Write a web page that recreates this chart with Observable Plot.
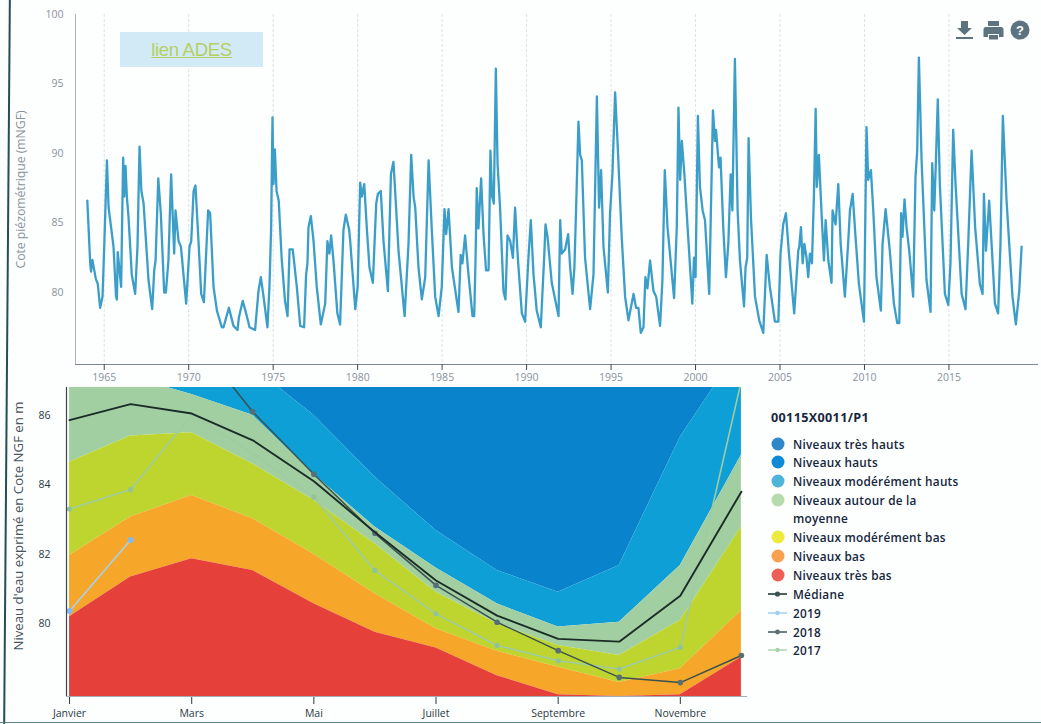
<!DOCTYPE html>
<html lang="fr">
<head>
<meta charset="utf-8">
<title>Cote piézométrique 00115X0011/P1</title>
<script src="https://cdn.jsdelivr.net/npm/d3@7"></script>
<script src="https://cdn.jsdelivr.net/npm/@observablehq/plot@0.6"></script>
<style>
html,body{margin:0;padding:0;background:#fdfefe;}
#page{position:relative;width:1041px;height:724px;overflow:hidden;font-family:"Open Sans",sans-serif;}
#top,#bottom{position:absolute;left:0;}
#top{top:0;}#bottom{top:387px;}
#page svg{background:transparent;display:block;}
#scan-left{position:absolute;left:6px;top:-5px;width:1.6px;height:735px;background:#234f55;transform:rotate(0.45deg);}
#scan-bottom{position:absolute;left:0;top:722px;width:1041px;height:1.2px;background:#5d8388;}
#ades{position:absolute;left:120px;top:32px;width:143px;height:35px;background:#d2eaf6;text-align:center;font:18.5px/35px "Liberation Sans",sans-serif;letter-spacing:-.3px;color:#b5cf63;text-decoration:underline;}
.icons{position:absolute;left:954px;top:17px;}
#legend{position:absolute;left:771px;top:409px;width:198px;color:#16263c;font:600 11.8px/18px "Open Sans",sans-serif;letter-spacing:.25px;}
#legend .title{font-size:12.6px;font-weight:700;height:22px;margin-bottom:3.5px;letter-spacing:.35px;}
#legend .row{display:flex;align-items:flex-start;margin-bottom:.9px;}
#legend .key{flex:0 0 22px;width:22px;height:18px;}
#legend .label{flex:1;}
</style>
</head>
<body>
<div id="page">
  <div id="top"></div>
  <div id="bottom"></div>
  <div id="scan-left"></div>
  <div id="scan-bottom"></div>
  <div id="ades">lien ADES</div>
  <svg class="icons" width="78" height="26" viewBox="0 0 78 26" fill="#5d7380">
    <path d="M7 4h7v7h4l-7.5 7-7.5-7h4z"/><rect x="2" y="20" width="17" height="2"/>
    <path d="M34 4h11v5H34z"/><path d="M32 10h15a2.500 2.500 0 0 1 2.500 2.500V20H45v-3H34v3h-4.500V12.500A2.500 2.500 0 0 1 32 10z"/><rect x="35" y="18" width="9" height="4.500"/>
    <circle cx="66" cy="13" r="9.500"/>
    <text x="66" y="17.500" fill="#fff" font-size="13" font-weight="700" text-anchor="middle" font-family="Liberation Sans">?</text>
  </svg>
  <div id="legend"></div>
</div>
<script>
// ---- Chronique piézométrique (haut) ----
const years = [1964,1964.17,1964.22,1964.3,1964.5,1964.62,1964.76,1964.9,1965,1965.16,1965.26,1965.55,1965.7,1965.75,1965.8,1966,1966.12,1966.18,1966.26,1966.34,1966.44,1966.63,1966.83,1966.97,1967.09,1967.2,1967.33,1967.62,1967.84,1967.96,1968.04,1968.2,1968.35,1968.55,1968.65,1968.8,1968.96,1969.14,1969.22,1969.4,1969.54,1969.85,1970.05,1970.15,1970.29,1970.4,1970.58,1970.74,1970.9,1971.04,1971.15,1971.27,1971.47,1971.67,1971.96,1972.06,1972.38,1972.65,1972.89,1972.97,1973.2,1973.4,1973.6,1973.93,1974.13,1974.27,1974.43,1974.66,1974.78,1974.88,1974.96,1975.02,1975.1,1975.2,1975.33,1975.5,1975.7,1975.85,1975.97,1976.16,1976.4,1976.6,1976.83,1976.95,1977.03,1977.09,1977.23,1977.39,1977.58,1977.82,1978.08,1978.21,1978.33,1978.43,1978.57,1978.8,1978.96,1979.16,1979.3,1979.5,1979.56,1979.86,1980,1980.15,1980.25,1980.39,1980.55,1980.7,1980.9,1981.1,1981.2,1981.37,1981.53,1981.79,1981.97,1982.12,1982.22,1982.42,1982.78,1983.01,1983.17,1983.31,1983.41,1983.6,1983.8,1984,1984.2,1984.39,1984.59,1984.79,1984.98,1985.14,1985.24,1985.38,1985.58,1985.97,1986.1,1986.2,1986.36,1986.56,1986.8,1986.9,1986.98,1987.05,1987.15,1987.31,1987.45,1987.6,1987.75,1987.86,1987.96,1988.06,1988.18,1988.28,1988.43,1988.63,1988.75,1988.87,1989.03,1989.19,1989.32,1989.48,1989.72,1989.91,1990.11,1990.25,1990.41,1990.6,1990.84,1991.04,1991.12,1991.24,1991.49,1991.89,1991.99,1992.08,1992.28,1992.46,1992.58,1992.72,1992.83,1992.93,1993.07,1993.17,1993.27,1993.46,1993.76,1993.96,1994.16,1994.29,1994.41,1994.55,1994.81,1994.94,1995.08,1995.24,1995.38,1995.63,1995.83,1996.03,1996.33,1996.48,1996.62,1996.76,1996.92,1997.03,1997.15,1997.31,1997.51,1997.67,1997.9,1998.04,1998.18,1998.34,1998.73,1998.89,1998.99,1999.09,1999.19,1999.34,1999.58,1999.81,1999.91,2000,2000.14,2000.26,2000.42,2000.56,2000.81,2000.95,2001.03,2001.15,2001.21,2001.39,2001.48,2001.64,2001.8,2001.94,2002.08,2002.18,2002.33,2002.49,2002.63,2002.87,2002.96,2003.06,2003.14,2003.28,2003.52,2003.77,2004.01,2004.21,2004.4,2004.7,2004.9,2005.03,2005.19,2005.35,2005.53,2005.84,2006.08,2006.14,2006.24,2006.34,2006.44,2006.57,2006.67,2006.77,2006.89,2007.01,2007.11,2007.18,2007.3,2007.46,2007.6,2007.7,2007.86,2008.05,2008.11,2008.29,2008.45,2008.59,2008.84,2009.04,2009.14,2009.3,2009.47,2009.67,2009.97,2010.12,2010.22,2010.38,2010.52,2010.71,2010.97,2011.07,2011.25,2011.5,2011.74,2011.94,2012.06,2012.17,2012.25,2012.37,2012.49,2012.65,2012.88,2013.02,2013.12,2013.22,2013.38,2013.67,2013.91,2014.01,2014.13,2014.21,2014.34,2014.46,2014.76,2014.96,2015.09,2015.25,2015.39,2015.75,2015.98,2016.14,2016.34,2016.55,2016.83,2016.99,2017.07,2017.19,2017.38,2017.5,2017.72,2017.91,2018.05,2018.19,2018.41,2018.76,2018.96,2019.16,2019.3];
const levels = [86.6,82.1,81.5,82.35,81,80.6,78.9,79.7,83.3,89.5,86.1,83.3,79.7,79.5,82.9,80.4,89.7,86.9,89.1,86.9,85.4,81.3,79.9,83.3,90.5,87.3,86.4,80.9,78.8,81.6,82.3,88.2,85.7,80,80,82.3,88.5,82.8,85.9,83.7,83.3,79.2,83.3,83.7,87.3,87.7,83.7,79.9,79.3,83,85.9,85.7,80.4,78.7,77.5,77.5,78.9,77.6,77.3,78.2,79.4,78.5,77.5,77.3,80.1,81.1,79.7,77.5,80.4,84.7,92.6,87.8,90.3,87.3,86.6,82.5,79.4,78.3,83.1,83.1,80.4,77.6,77.5,81.3,82.1,84.7,85.5,83.7,80.4,77.7,79.2,83.7,82.8,84.1,82.3,78.5,77.7,84.5,85.6,84.5,83.7,78.8,80.4,87.9,86.9,87.8,84.5,81.8,80.7,86.4,87.1,87.3,83.7,80.1,88.5,89.4,87.3,83,78.3,83.5,89.9,86.9,86.1,81.8,79.5,81.1,89.5,84.5,79.7,78.3,80.4,86,84.2,86,81.8,78.6,82.7,82.1,84.1,81.3,78.3,78.3,82.5,87.5,84.6,88.2,84.2,81.6,81.6,90.2,86.9,86.4,96.1,89.3,86.1,80.1,79.5,84.1,83.7,82.5,86.1,82.5,78.5,77.9,82.5,85.2,81.3,78.7,77.5,82.5,84.9,84,80.7,78.3,85.2,82.8,83.1,84.2,81.8,79.9,81.8,86,92.3,89.9,89.5,82.5,78.8,81.3,94.1,86.1,88.8,83.3,80,85.7,88.5,94.4,90.9,84,79.7,78,79.9,78.9,78.9,77.1,77.5,81.1,80.3,82.3,80.1,79.7,77.6,80.9,88.8,84.7,79.6,84.7,93.3,88.1,90.9,88.5,83.7,79.2,82.5,81.1,92.7,87.6,85.9,85.2,79.9,88.3,93.1,90.9,91.7,89,89.7,84.7,81.1,83.5,88.5,85.9,96.8,85.9,82.3,79,81.8,82.5,91.1,85.4,79.7,78,77.1,82.7,80.4,77.9,77.9,82.8,84.9,85.7,82.8,78.5,83,83.3,84.7,82.1,83.5,82.5,81.1,82.8,82.1,87.1,93.2,87.6,89.9,85.7,82.3,85.2,82.3,80.7,85.9,84.9,87.8,83.5,79.7,83.7,85.9,87.1,84,80.6,77.9,91.9,88.1,88.8,85.9,81.1,78.7,83.5,86,83,79.2,77.8,77.8,85.7,84,86.7,84.7,83,79.7,88.3,90.2,96.9,89.5,80.9,78.6,89.3,85.9,88.8,93.9,87.8,79.9,79.1,82.1,91.7,87.8,79.9,78.8,83.5,90.2,84.7,80.6,79.9,87.1,83,86.6,84,79.2,78.5,83.5,92.7,86.6,79.7,77.7,80.1,83.3];
const yearTicks = [1965,1970,1975,1980,1985,1990,1995,2000,2005,2010,2015];
const levelTicks = [80,85,90,95,100];

// ---- Niveaux mensuels (bas) ----
const monthIndex = [0,1,2,3,4,5,6,7,8,9,10,11];
const monthTicks = [0,2,4,6,8,10];
const monthNames = ["Janvier","Février","Mars","Avril","Mai","Juin","Juillet","Août","Septembre","Octobre","Novembre","Décembre"];
const ngfTicks = [80,82,84,86];
const floorLevel = [77.9,77.9,77.9,77.9,77.9,77.9,77.9,77.9,77.9,77.9,77.9,77.9];
const tresBas = [80.2,81.34,81.87,81.53,80.57,79.75,79.3,78.5,77.95,77.9,77.95,79.03];
const bas = [81.96,83.07,83.69,83.02,82,80.86,79.85,79.2,78.74,78.3,78.7,80.37];
const moderementBas = [84.65,85.4,85.5,84.6,83.55,82.3,80.9,80,79.37,79.08,80.09,82.78];
const autourMoyenne = [87.6,87.1,86.6,86,84.3,82.78,81.6,80.57,79.9,80.04,81.67,84.85];
const moderementHauts = [88.5,88,87.9,87.4,86,84.22,82.68,81.53,80.9,81.67,85.37,88];
const hauts = [90,90,90,90,90,90,90,90,90,90,90,90];
const mediane = [85.86,86.32,86.05,85.28,84.1,82.63,81.24,80.23,79.56,79.48,80.8,83.8];
const y2019 = [80.36,82.41];
const y2018 = [null,null,88.3,86.1,84.3,82.6,81.1,80.04,79.22,78.45,78.3,79.08];
const y2017 = [83.3,83.86,86,84.9,83.64,81.53,80.28,79.37,78.93,78.69,79.32,87];

const bandNames = ["Niveaux très hauts","Niveaux hauts","Niveaux modérément hauts","Niveaux autour de la moyenne","Niveaux modérément bas","Niveaux bas","Niveaux très bas"];
const bandFills = ["#0b76c2","#0a83cd","#0d9fd6","#a2cfa2","#bed52f","#f6a729","#e5403a"];
const legendDots = ["#2f88c9","#0f8ad6","#4fb4da","#b5dbab","#ecea3c","#f8a14e","#ef5f58"];
const lineNames = ["Médiane","2019","2018","2017"];
const lineColors = ["#1a2c26","#a8d0ee","#3a524f","#9fcba3"];

// ---- graphique du haut ----
const series = years.map((y,i)=>({year:y,level:levels[i]}));
const gray = "#8a939c";
const topPlot = Plot.plot({
  width:1041,height:385,
  marginTop:14,marginBottom:21,marginLeft:75,marginRight:3,
  style:{fontFamily:'"Open Sans",sans-serif',fontSize:"10.5px",color:gray,background:"transparent"},
  x:{domain:[1963.3,2020.3],label:null},
  y:{domain:[74.82,100],ticks:levelTicks,label:null,tickSize:0,tickPadding:12},
  marks:[
    Plot.ruleX(yearTicks,{stroke:"#d7dbde",strokeWidth:.8,strokeDasharray:"3 2"}),
    Plot.ruleX([1963.3],{stroke:"#aab2b8",strokeWidth:1}),
    Plot.ruleY([74.82],{stroke:"#7d8894",strokeWidth:1}),
    Plot.axisX({ticks:yearTicks,tickFormat:d3.format("d"),label:null,tickSize:6,tickPadding:3,stroke:"#3f4a52",fill:gray}),
    Plot.line(series,{x:"year",y:"level",stroke:"#3b9ec8",strokeWidth:2.3,curve:"linear"}),
    Plot.text(["Cote piézométrique (mNGF)"],{frameAnchor:"left",dx:-54,dy:0,rotate:-90,fill:gray,fontSize:12.2,text:d=>d,textAnchor:"middle",lineAnchor:"middle"})
  ]
});
document.getElementById("top").append(topPlot);

// ---- graphique du bas ----
const bandTable = [];
const bandStack = [[hauts,moderementHauts],[moderementHauts,autourMoyenne],[autourMoyenne,moderementBas],[moderementBas,bas],[bas,tresBas],[tresBas,floorLevel]];
const bandIdx = [1,2,3,4,5,6];
bandStack.forEach(([up,low],k)=>monthIndex.forEach(m=>bandTable.push({m,hi:up[m],lo:low[m],band:bandNames[bandIdx[k]]})));
const toRows = a => a.map((v,i)=>({m:monthIndex[i],v})).filter(d=>d.v!=null);
const dark = "#2b3a44";
const bottomPlot = Plot.plot({
  width:750,height:337,
  marginTop:0,marginBottom:28,marginLeft:66,marginRight:3,
  style:{fontFamily:'"Open Sans",sans-serif',fontSize:"10.5px",color:dark,background:"transparent"},
  x:{domain:[-0.05,11.1],ticks:monthTicks,tickFormat:i=>monthNames[i],label:null,tickSize:8,tickPadding:5},
  y:{domain:[77.9,86.8],ticks:ngfTicks,label:null,tickSize:0,tickPadding:16},
  color:{domain:bandNames,range:bandFills},
  marks:[
    Plot.areaY(bandTable,{x:"m",y1:"lo",y2:"hi",fill:"band",z:"band",clip:true,curve:"linear"}),
    Plot.line(toRows(y2017),{x:"m",y:"v",stroke:lineColors[3],strokeWidth:1.6,clip:true}),
    Plot.dot(toRows(y2017).filter(d=>d.v<84),{x:"m",y:"v",r:2.6,fill:"#92c298",clip:true}),
    Plot.line(toRows(y2018),{x:"m",y:"v",stroke:lineColors[2],strokeWidth:1.5,clip:true}),
    Plot.dot(toRows(y2018),{x:"m",y:"v",r:2.8,fill:"#566e74",clip:true}),
    Plot.line(toRows(mediane),{x:"m",y:"v",stroke:lineColors[0],strokeWidth:1.9,clip:true}),
    Plot.line(toRows(y2019),{x:"m",y:"v",stroke:lineColors[1],strokeWidth:1.6,clip:true}),
    Plot.dot(toRows(y2019),{x:"m",y:"v",r:3,fill:"#86b8ee",clip:true}),
    Plot.ruleX([-0.05],{stroke:"#3a454d",strokeWidth:1.2}),
    Plot.ruleY([77.9],{stroke:"#a3adb3",strokeWidth:1}),
    Plot.text(["Niveau d'eau exprimé en Cote NGF en m"],{frameAnchor:"left",dx:-48,dy:-16,rotate:-90,fill:"#46525c",fontSize:13.2,text:d=>d,textAnchor:"middle",lineAnchor:"middle"})
  ]
});
document.getElementById("bottom").append(bottomPlot);

// ---- légende ----
const legend = document.getElementById("legend");
legend.innerHTML = `<div class="title">00115X0011/P1</div>`;
bandNames.forEach((n,i)=>{
  legend.insertAdjacentHTML("beforeend",`<div class="row"><div class="key"><svg width="22" height="18"><circle cx="7" cy="9" r="6.500" fill="${legendDots[i]}"/></svg></div><div class="label">${n}</div></div>`);
});
const lineSym = [{c:"#243a38",m:"#3a5052",r:2.6},{c:"#a8d4f4",m:"#9ccff2",r:2.2},{c:"#4b6062",m:"#5a7074",r:2.4},{c:"#b0d8b4",m:"#a8d4ac",r:2.2}];
lineNames.forEach((n,i)=>{
  const s=lineSym[i];
  legend.insertAdjacentHTML("beforeend",`<div class="row"><div class="key"><svg width="22" height="18" style="margin-left:-3px"><line x1="0" x2="19" y1="9" y2="9" stroke="${s.c}" stroke-width="1.6"/><circle cx="9.500" cy="9" r="${s.r}" fill="${s.m}"/></svg></div><div class="label">${n}</div></div>`);
});
</script>
</body>
</html>
